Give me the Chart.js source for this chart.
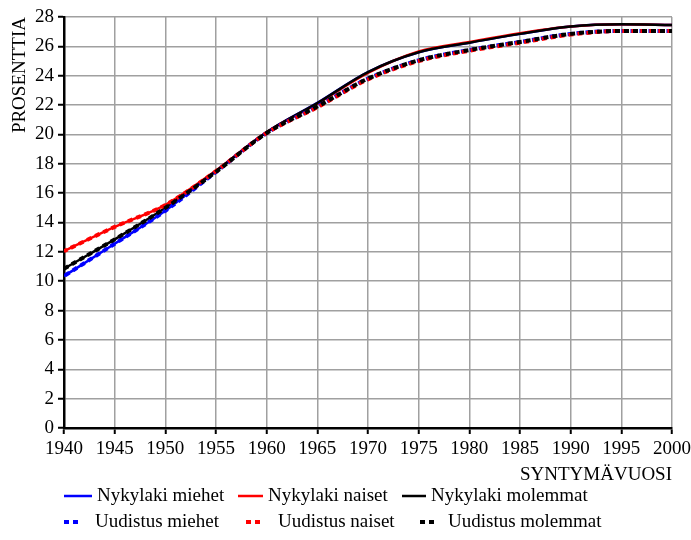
<!DOCTYPE html>
<html>
<head>
<meta charset="utf-8">
<script src="https://cdn.jsdelivr.net/npm/chart.js@4.4.1/dist/chart.umd.min.js"></script>
<style>
html, body { margin: 0; padding: 0; background: #fff; }
#wrap { width: 691px; height: 540px; }
</style>
</head>
<body>
<div id="wrap"><canvas id="myChart"></canvas></div>
<script>
// syntymävuodet
var vuodet = [1940, 1945, 1950, 1955, 1960, 1965, 1970, 1975, 1980, 1985, 1990, 1995, 2000];

// nykylaki
var nykylakiMiehet    = [10.35, 12.55, 14.8, 17.5, 20.15, 22.15, 24.25, 25.6, 26.25, 26.85, 27.35, 27.5, 27.45];
var nykylakiNaiset    = [12.05, 13.7, 15.2, 17.55, 20.15, 22.1, 24.2, 25.65, 26.3, 26.9, 27.35, 27.5, 27.45];
var nykylakiMolemmat  = [10.85, 12.85, 15.0, 17.5, 20.15, 22.13, 24.25, 25.6, 26.25, 26.85, 27.35, 27.5, 27.45];

// uudistus
var uudistusMiehet    = [10.35, 12.55, 14.8, 17.45, 20.1, 21.9, 23.8, 25.05, 25.75, 26.3, 26.85, 27.05, 27.05];
var uudistusNaiset    = [12.05, 13.7, 15.2, 17.5, 20.1, 21.85, 23.75, 25.0, 25.7, 26.25, 26.8, 27.05, 27.05];
var uudistusMolemmat  = [10.85, 12.85, 15.0, 17.45, 20.1, 21.9, 23.8, 25.05, 25.75, 26.3, 26.85, 27.05, 27.05];

// akselit
var xMin = 1940, xMax = 2000, xStep = 5;
var yMin = 0, yMax = 28, yStep = 2;

var fontti = 'Liberation Serif';

function pisteet(arvot) {
    return vuodet.map(function (v, i) { return { x: v, y: arvot[i] }; });
}

function sarja(label, arvot, vari, katko, jarjestys, offset) {
    return {
        label: label,
        data: pisteet(arvot),
        borderColor: vari,
        backgroundColor: vari,
        borderWidth: katko ? 4 : 2.5,
        borderDash: katko ? [5, 4] : [],
        borderDashOffset: offset || 0,
        borderCapStyle: 'butt',
        pointRadius: 0,
        cubicInterpolationMode: 'monotone',
        fill: false,
        order: jarjestys
    };
}

// selite piirretään itse, kaksi riviä
var seliteRivit = [496, 522];
var selitePaikat = [
    { rivi: 0, x: 64, pituus: 28, tekstiX: 97 },
    { rivi: 0, x: 238, pituus: 25, tekstiX: 268 },
    { rivi: 0, x: 402, pituus: 24, tekstiX: 431 },
    { rivi: 1, x: 64, pituus: 15, tekstiX: 95 },
    { rivi: 1, x: 246, pituus: 18, tekstiX: 278 },
    { rivi: 1, x: 420, pituus: 15, tekstiX: 448 }
];

var selitePlugin = {
    id: 'omaSelite',
    afterDraw: function (chart) {
        var ctx = chart.ctx;
        chart.data.datasets.forEach(function (ds, i) {
            var p = selitePaikat[i];
            var y = seliteRivit[p.rivi];
            ctx.save();
            ctx.strokeStyle = ds.borderColor;
            ctx.lineWidth = ds.borderDash.length ? 4 : 2.5;
            ctx.setLineDash(ds.borderDash);
            ctx.beginPath();
            ctx.moveTo(p.x, y);
            ctx.lineTo(p.x + p.pituus, y);
            ctx.stroke();
            ctx.restore();

            ctx.save();
            ctx.fillStyle = '#000';
            ctx.font = '19px "' + fontti + '"';
            ctx.textBaseline = 'middle';
            ctx.fillText(ds.label, p.tekstiX, y);
            ctx.restore();
        });
    }
};

var ctx = document.getElementById('myChart').getContext('2d');

var myChart = new Chart(ctx, {
    type: 'line',
    data: {
        datasets: [
            sarja('Nykylaki miehet', nykylakiMiehet, '#0000ff', false, 6),
            sarja('Nykylaki naiset', nykylakiNaiset, '#ff0000', false, 5),
            sarja('Nykylaki molemmat', nykylakiMolemmat, '#000000', false, 4),
            sarja('Uudistus miehet', uudistusMiehet, '#0000ff', true, 3, -1.5),
            sarja('Uudistus naiset', uudistusNaiset, '#ff0000', true, 2, 1.5),
            sarja('Uudistus molemmat', uudistusMolemmat, '#000000', true, 1)
        ]
    },
    options: {
        responsive: true,
        maintainAspectRatio: false,
        animation: false,
        layout: { padding: { top: 17, right: 19, bottom: 54, left: 0 } },
        plugins: {
            legend: { display: false },
            tooltip: { enabled: false }
        },
        scales: {
            x: {
                type: 'linear',
                min: xMin,
                max: xMax,
                ticks: {
                    stepSize: xStep,
                    color: '#000',
                    font: { family: fontti, size: 19 },
                    padding: 4,
                    maxRotation: 0,
                    callback: function (v) { return String(v); }
                },
                grid: { color: '#a0a0a0', lineWidth: 1.5, tickLength: 6, tickColor: '#000', tickWidth: 2 },
                border: { color: '#000', width: 2.5 },
                title: {
                    display: true,
                    text: 'SYNTYMÄVUOSI',
                    align: 'end',
                    color: '#000',
                    font: { family: fontti, size: 19 },
                    padding: { top: 0, bottom: 0 }
                },
                afterFit: function (s) {
                    s.height = 58;
                    s.paddingLeft = 0;
                    s.paddingRight = 0;
                }
            },
            y: {
                min: yMin,
                max: yMax,
                ticks: {
                    stepSize: yStep,
                    color: '#000',
                    font: { family: fontti, size: 19 },
                    padding: 4
                },
                grid: { color: '#a0a0a0', lineWidth: 1.5, tickLength: 6, tickColor: '#000', tickWidth: 2 },
                border: { color: '#000', width: 2.5 },
                title: {
                    display: true,
                    text: 'PROSENTTIA',
                    align: 'end',
                    color: '#000',
                    font: { family: fontti, size: 19 },
                    padding: { top: 9, bottom: 0 }
                },
                afterFit: function (s) { s.width = 64; }
            }
        }
    },
    plugins: [selitePlugin]
});
</script>
</body>
</html>
